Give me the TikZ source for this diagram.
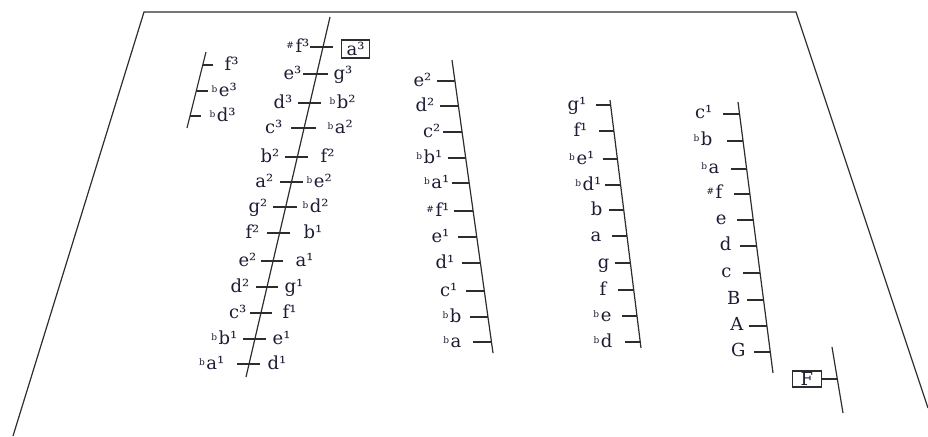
\documentclass[tikz,border=0pt]{standalone}
\usepackage{fontspec}
\setmainfont{DejaVu Serif}
\usepackage{tikz}
\usetikzlibrary{calc}

\definecolor{ink}{RGB}{28,28,52}
\definecolor{rule}{RGB}{45,45,45}
\newcommand{\flt}{\raisebox{1.6pt}{\fontsize{4.5}{5}\selectfont b}\hspace{0.8pt}}
\newcommand{\shp}{\raisebox{1.6pt}{\fontsize{4.5}{5}\selectfont\#}\hspace{0.8pt}}

\begin{document}
\begin{tikzpicture}[x=0.5pt, y=-0.5pt, line width=0.6pt,
    every node/.style={font=\fontsize{9}{10}\selectfont, text=ink, inner sep=0pt},
    staff/.style={draw=rule},
    lft/.style={anchor=base east},
    rgt/.style={anchor=base west},
    notebox/.style={draw=rule, line width=0.6pt, inner xsep=2.5pt, minimum height=9pt}]

\useasboundingbox (0,0) rectangle (928,436);

% --- FRAME ---
\draw[rule] (13,436) -- (144,12) -- (796,12) -- (928,408);

% --- short staff, top left ---
\begin{scope}
    \coordinate (t1) at (206,52);
    \coordinate (b1) at (187,128);
    \draw[staff] (t1) -- (b1);

    \draw[staff] (202.8,65) -- (213,65);
    \draw[staff] (196.3,91) -- (208,91);
    \draw[staff] (190,116) -- (201,116);

    \node[rgt] (s1f3) at (224,70) {f³};
    \node[rgt] (s1es3) at (211,96) {\flt e³};
    \node[rgt] (s1des3) at (209,121) {\flt d³};
\end{scope}

% --- long staff, notes on both sides ---
\begin{scope}
    \coordinate (t2) at (330,17);
    \coordinate (b2) at (246,377);
    \draw[staff] (t2) -- (b2);

    \draw[staff] (310,47) -- (333,47);
    \node[lft] (s2fis3) at (310,52) {\shp f³};
    \node[notebox, anchor=west] (s2a3) at (341,49) {a³};

    \draw[staff] (303,74) -- (328,74);
    \node[lft] (s2e3) at (302,79) {e³};
    \node[rgt] (s2g3) at (333,79) {g³};

    \draw[staff] (298,103) -- (321,103);
    \node[lft] (s2d3) at (293,108) {d³};
    \node[rgt] (s2b2) at (329,108) {\flt b²};

    \draw[staff] (291,128) -- (316,128);
    \node[lft] (s2c3) at (283,133) {c³};
    \node[rgt] (s2as2) at (327,133) {\flt a²};

    \draw[staff] (285,157) -- (308,157);
    \node[lft] (s2h2) at (280,162) {b²};
    \node[rgt] (s2f2) at (320,162) {f²};

    \draw[staff] (280,182) -- (303,182);
    \node[lft] (s2a2) at (274,187) {a²};
    \node[rgt] (s2es2) at (306,187) {\flt e²};

    \draw[staff] (273,207) -- (297,207);
    \node[lft] (s2g2) at (268,212) {g²};
    \node[rgt] (s2des2) at (302,212) {\flt d²};

    \draw[staff] (267,233) -- (290,233);
    \node[lft] (s2f2b) at (260,238) {f²};
    \node[rgt] (s2h1) at (303,238) {b¹};

    \draw[staff] (261,261) -- (283,261);
    \node[lft] (s2e2) at (257,266) {e²};
    \node[rgt] (s2a1) at (295,266) {a¹};

    \draw[staff] (256,287) -- (278,287);
    \node[lft] (s2d2) at (250,292) {d²};
    \node[rgt] (s2g1) at (284,292) {g¹};

    \draw[staff] (250,313) -- (272,313);
    \node[lft] (s2c3b) at (247,318) {c³};
    \node[rgt] (s2f1) at (282,318) {f¹};

    \draw[staff] (243,339) -- (266,339);
    \node[lft] (s2b1) at (238,344) {\flt b¹};
    \node[rgt] (s2e1) at (272,344) {e¹};

    \draw[staff] (237,364) -- (260,364);
    \node[lft] (s2as1) at (225,369) {\flt a¹};
    \node[rgt] (s2d1) at (267,369) {d¹};
\end{scope}

% --- middle staff ---
\begin{scope}
    \coordinate (t3) at (452,60);
    \coordinate (b3) at (493,353);
    \draw[staff] (t3) -- (b3);

    \draw[staff] (437,81) -- (454.9,81);   \node[lft] (s3e2) at (432,86) {e²};
    \draw[staff] (440,106) -- (458.4,106); \node[lft] (s3d2) at (435,111) {d²};
    \draw[staff] (443,132) -- (462.1,132); \node[lft] (s3c2) at (441,137) {c²};
    \draw[staff] (448,158) -- (465.7,158); \node[lft] (s3b1) at (443,163) {\flt b¹};
    \draw[staff] (452,183) -- (469.2,183); \node[lft] (s3as1) at (450,188) {\flt a¹};
    \draw[staff] (454,211) -- (473.1,211); \node[lft] (s3fis1) at (450,216) {\shp f¹};
    \draw[staff] (458,237) -- (476.8,237); \node[lft] (s3e1) at (450,242) {e¹};
    \draw[staff] (462,263) -- (480.4,263); \node[lft] (s3d1) at (455,268) {d¹};
    \draw[staff] (466,291) -- (484.3,291); \node[lft] (s3c1) at (458,296) {c¹};
    \draw[staff] (470,317) -- (488,317);   \node[lft] (s3b) at (462,322) {\flt b};
    \draw[staff] (473,342) -- (491.5,342); \node[lft] (s3as) at (462,347) {\flt a};
\end{scope}

% --- staff from g1 down ---
\begin{scope}
    \coordinate (t4) at (610,100);
    \coordinate (b4) at (641,348);
    \draw[staff] (t4) -- (b4);

    \draw[staff] (596,105) -- (610.6,105); \node[lft] (s4g1) at (587,110) {g¹};
    \draw[staff] (599,131) -- (613.9,131); \node[lft] (s4f1) at (588,136) {f¹};
    \draw[staff] (603,159) -- (617.4,159); \node[lft] (s4es1) at (595,164) {\flt e¹};
    \draw[staff] (605,185) -- (620.6,185); \node[lft] (s4des1) at (602,190) {\flt d¹};
    \draw[staff] (609,210) -- (623.8,210); \node[lft] (s4h) at (603,215) {b};
    \draw[staff] (612,236) -- (627,236);   \node[lft] (s4a) at (602,241) {a};
    \draw[staff] (615,263) -- (630.4,263); \node[lft] (s4g) at (610,268) {g};
    \draw[staff] (618,290) -- (633.8,290); \node[lft] (s4f) at (607,295) {f};
    \draw[staff] (622,316) -- (637,316);   \node[lft] (s4es) at (612,321) {\flt e};
    \draw[staff] (625,342) -- (640.3,342); \node[lft] (s4des) at (613,347) {\flt d};
\end{scope}

% --- staff from c1 down to G ---
\begin{scope}
    \coordinate (t5) at (738,102);
    \coordinate (b5) at (773,373);
    \draw[staff] (t5) -- (b5);

    \draw[staff] (723,114) -- (739.5,114); \node[lft] (s5c1) at (713,118) {c¹};
    \draw[staff] (727,141) -- (743,141);   \node[lft] (s5b) at (713,145) {\flt b};
    \draw[staff] (731,169) -- (746.6,169); \node[lft] (s5as) at (720,173) {\flt a};
    \draw[staff] (734,194) -- (749.9,194); \node[lft] (s5fis) at (723,198) {\shp f};
    \draw[staff] (737,220) -- (753.2,220); \node[lft] (s5e) at (727,224) {e};
    \draw[staff] (740,246) -- (756.6,246); \node[lft] (s5d) at (732,250) {d};
    \draw[staff] (743,273) -- (760.1,273); \node[lft] (s5c) at (732,277) {c};
    \draw[staff] (747,300) -- (763.5,300); \node[lft] (s5H) at (741,304) {B};
    \draw[staff] (749,326) -- (766.9,326); \node[lft] (s5A) at (744,330) {A};
    \draw[staff] (754,352) -- (770.3,352); \node[lft] (s5G) at (746,356) {G};
\end{scope}

% --- lowest note F ---
\begin{scope}
    \coordinate (t6) at (832,347);
    \coordinate (b6) at (843,413);
    \coordinate (s6tick) at (837.3,379);
    \draw[staff] (t6) -- (b6);
    \node[notebox, anchor=east, minimum width=14.5pt, minimum height=8pt] (s6F) at (822,379) {F};
    \draw[staff] (s6F.east) -- (s6tick);
\end{scope}

\end{tikzpicture}
\end{document}
